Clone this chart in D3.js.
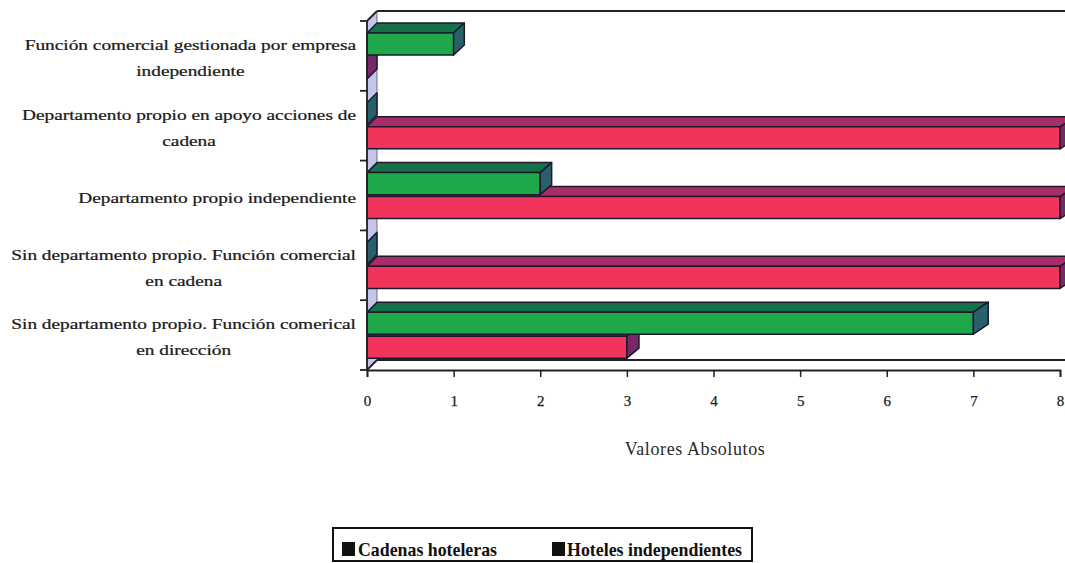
<!DOCTYPE html>
<html>
<head>
<meta charset="utf-8">
<script src="https://cdn.jsdelivr.net/npm/d3@7"></script>
<style>
  body { margin: 0; background: #fff; }
  svg { display: block; }
  .serif { font-family: "Liberation Serif", Tinos, "Times New Roman", "DejaVu Serif", serif; }
</style>
</head>
<body>
<svg id="chart" width="1065" height="563"></svg>
<script>
// Category labels (line breaks as drawn)
const categories = [
  "Función comercial gestionada por empresa\nindependiente",
  "Departamento propio en apoyo acciones de\ncadena",
  "Departamento propio independiente",
  "Sin departamento propio. Función comercial\nen cadena",
  "Sin departamento propio. Función comerical\nen dirección"
];
// Series values, one per category
const cadenasHoteleras = [0, 8, 8, 8, 3];
const hotelesIndependientes = [1, 0, 2, 0, 7];
const seriesNames = ["Cadenas hoteleras", "Hoteles independientes"];
const xTickValues = [0, 1, 2, 3, 4, 5, 6, 7, 8];
const axisTitle = "Valores Absolutos";

(function draw() {
  const svg = d3.select("#chart");

  // Plot frame
  const plotLeft = 367, plotRight = 1060, plotTop = 21, plotBottom = 370;
  const depthY = 10;
  const depthX = v => 10 + 0.7 * v;   // slight perspective widening to the right

  const x = d3.scaleLinear().domain([0, 8]).range([plotLeft, plotRight]);
  const y = d3.scaleBand().domain(categories).range([plotTop, plotBottom]).paddingInner(0).paddingOuter(0);
  const sub = d3.scaleBand().domain(["ind", "cad"]).range([12, 58]).paddingInner(0.08);

  const series = [
    { key: "cad", name: seriesNames[0], values: cadenasHoteleras,
      front: "#f2345c", topFace: "#a82c66", end: "#76286a" },
    { key: "ind", name: seriesNames[1], values: hotelesIndependientes,
      front: "#1fa84a", topFace: "#16704a", end: "#2a5f6e" }
  ];

  // Side wall (lavender strip on the left)
  const d0 = depthX(0);
  svg.append("polygon")
    .attr("points", [[plotLeft, plotTop], [plotLeft + d0, plotTop - depthY],
                     [plotLeft + d0, plotBottom - depthY], [plotLeft, plotBottom]].join(" "))
    .attr("fill", "#c6c5ee").attr("stroke", "#555").attr("stroke-width", 0.8);

  // Back wall top edge and floor
  const x8 = x(8) + depthX(8);
  const frame = svg.append("g").attr("fill", "none").attr("stroke", "#222").attr("stroke-width", 1.8);
  frame.append("line").attr("x1", plotLeft + d0).attr("y1", plotTop - depthY).attr("x2", x8).attr("y2", plotTop - depthY);
  frame.append("line").attr("x1", plotLeft).attr("y1", plotTop).attr("x2", plotLeft + d0).attr("y2", plotTop - depthY);
  frame.append("line").attr("x1", plotLeft + d0).attr("y1", plotBottom - depthY).attr("x2", x8).attr("y2", plotBottom - depthY);
  frame.append("line").attr("x1", plotLeft).attr("y1", plotBottom).attr("x2", plotLeft + d0).attr("y2", plotBottom - depthY);

  // 3D bars: red series first, green drawn over it
  const bars = svg.append("g").attr("stroke", "#1c1a2c").attr("stroke-width", 1.5).attr("stroke-linejoin", "round");
  series.forEach(s => {
    categories.forEach((c, i) => {
      const v = s.values[i];
      const x0 = x(0), xv = x(v);
      const dv = depthX(v);
      const t = y(c) + sub(s.key);
      const h = sub.bandwidth();
      const g = bars.append("g");
      if (v > 0) {
        g.append("polygon")
          .attr("points", [[x0, t], [x0 + d0, t - depthY], [xv + dv, t - depthY], [xv, t]].join(" "))
          .attr("fill", s.topFace);
        g.append("rect").attr("x", x0).attr("y", t).attr("width", xv - x0).attr("height", h)
          .attr("fill", s.front);
      }
      g.append("polygon")
        .attr("points", [[xv, t], [xv + dv, t - depthY], [xv + dv, t + h - depthY], [xv, t + h]].join(" "))
        .attr("fill", s.end);
    });
  });

  // Category axis line and boundary ticks
  const axisG = svg.append("g").attr("stroke", "#222").attr("stroke-width", 1.8);
  axisG.append("line").attr("x1", plotLeft).attr("y1", plotTop).attr("x2", plotLeft).attr("y2", plotBottom);
  const boundaries = categories.map(c => y(c)).concat([y.range()[1]]);
  axisG.selectAll("line.tk").data(boundaries).join("line").attr("class", "tk")
    .attr("x1", plotLeft - 7).attr("x2", plotLeft).attr("y1", d => d).attr("y2", d => d);

  // Value axis
  const xAxis = svg.append("g").attr("transform", `translate(0,${plotBottom})`)
    .call(d3.axisBottom(x).tickValues(xTickValues).tickFormat(d3.format("d")).tickSize(7).tickPadding(18));
  xAxis.attr("font-family", null).attr("font-size", null);
  xAxis.select(".domain").attr("stroke", "#222").attr("stroke-width", 1.8);
  xAxis.selectAll(".tick line").attr("stroke", "#222").attr("stroke-width", 1.5);
  xAxis.selectAll(".tick text").attr("class", "serif").attr("fill", "#1a1a1a").style("font-size", "15px")
    .attr("stroke", "#1a1a1a").attr("stroke-width", 0.25);

  svg.append("text").attr("class", "serif").attr("x", 695).attr("y", 455).attr("text-anchor", "middle")
    .style("font-size", "18px").attr("letter-spacing", 0.6)
    .attr("fill", "#2a2a2a").text(axisTitle);

  // Category labels: block right-aligned to the axis, lines centred in the block
  const labelRight = 356, lineGap = 26, widestTarget = 345;
  const labels = svg.append("g").attr("class", "serif").style("font-size", "15px")
    .attr("fill", "#1a1a1a").attr("stroke", "#1a1a1a").attr("stroke-width", 0.25);
  const probe = labels.append("text");
  let widest = 0;
  categories.forEach(c => c.split("\n").forEach(l => {
    probe.text(l); widest = Math.max(widest, probe.node().getComputedTextLength());
  }));
  probe.remove();
  const kx = widestTarget / widest;
  categories.forEach(c => {
    const lines = c.split("\n");
    const cy = y(c) + y.bandwidth() / 2 + 2;
    const g = labels.append("g").attr("transform", `translate(${labelRight},${cy}) scale(${kx},1)`);
    const texts = lines.map((l, j) => g.append("text")
      .attr("y", (j - (lines.length - 1) / 2) * lineGap)
      .attr("dy", "0.35em").attr("text-anchor", "middle").text(l));
    const blockW = d3.max(texts, t => t.node().getComputedTextLength());
    texts.forEach(t => t.attr("x", -blockW / 2));
  });

  // Legend
  const legend = svg.append("g");
  legend.append("rect").attr("x", 333).attr("y", 528).attr("width", 419).attr("height", 33)
    .attr("fill", "#fff").attr("stroke", "#111").attr("stroke-width", 2);
  const legendItems = [
    { name: seriesNames[0], sx: 342, tx: 358, w: 139 },
    { name: seriesNames[1], sx: 552, tx: 567, w: 175 }
  ];
  legendItems.forEach(it => {
    legend.append("rect").attr("x", it.sx).attr("y", 542).attr("width", 13).attr("height", 14).attr("fill", "#111");
    legend.append("text").attr("class", "serif").attr("x", it.tx).attr("y", 556)
      .style("font-size", "19px").style("font-weight", "bold").attr("fill", "#111")
      .attr("textLength", it.w).attr("lengthAdjust", "spacingAndGlyphs")
      .text(it.name);
  });
})();
</script>
</body>
</html>
